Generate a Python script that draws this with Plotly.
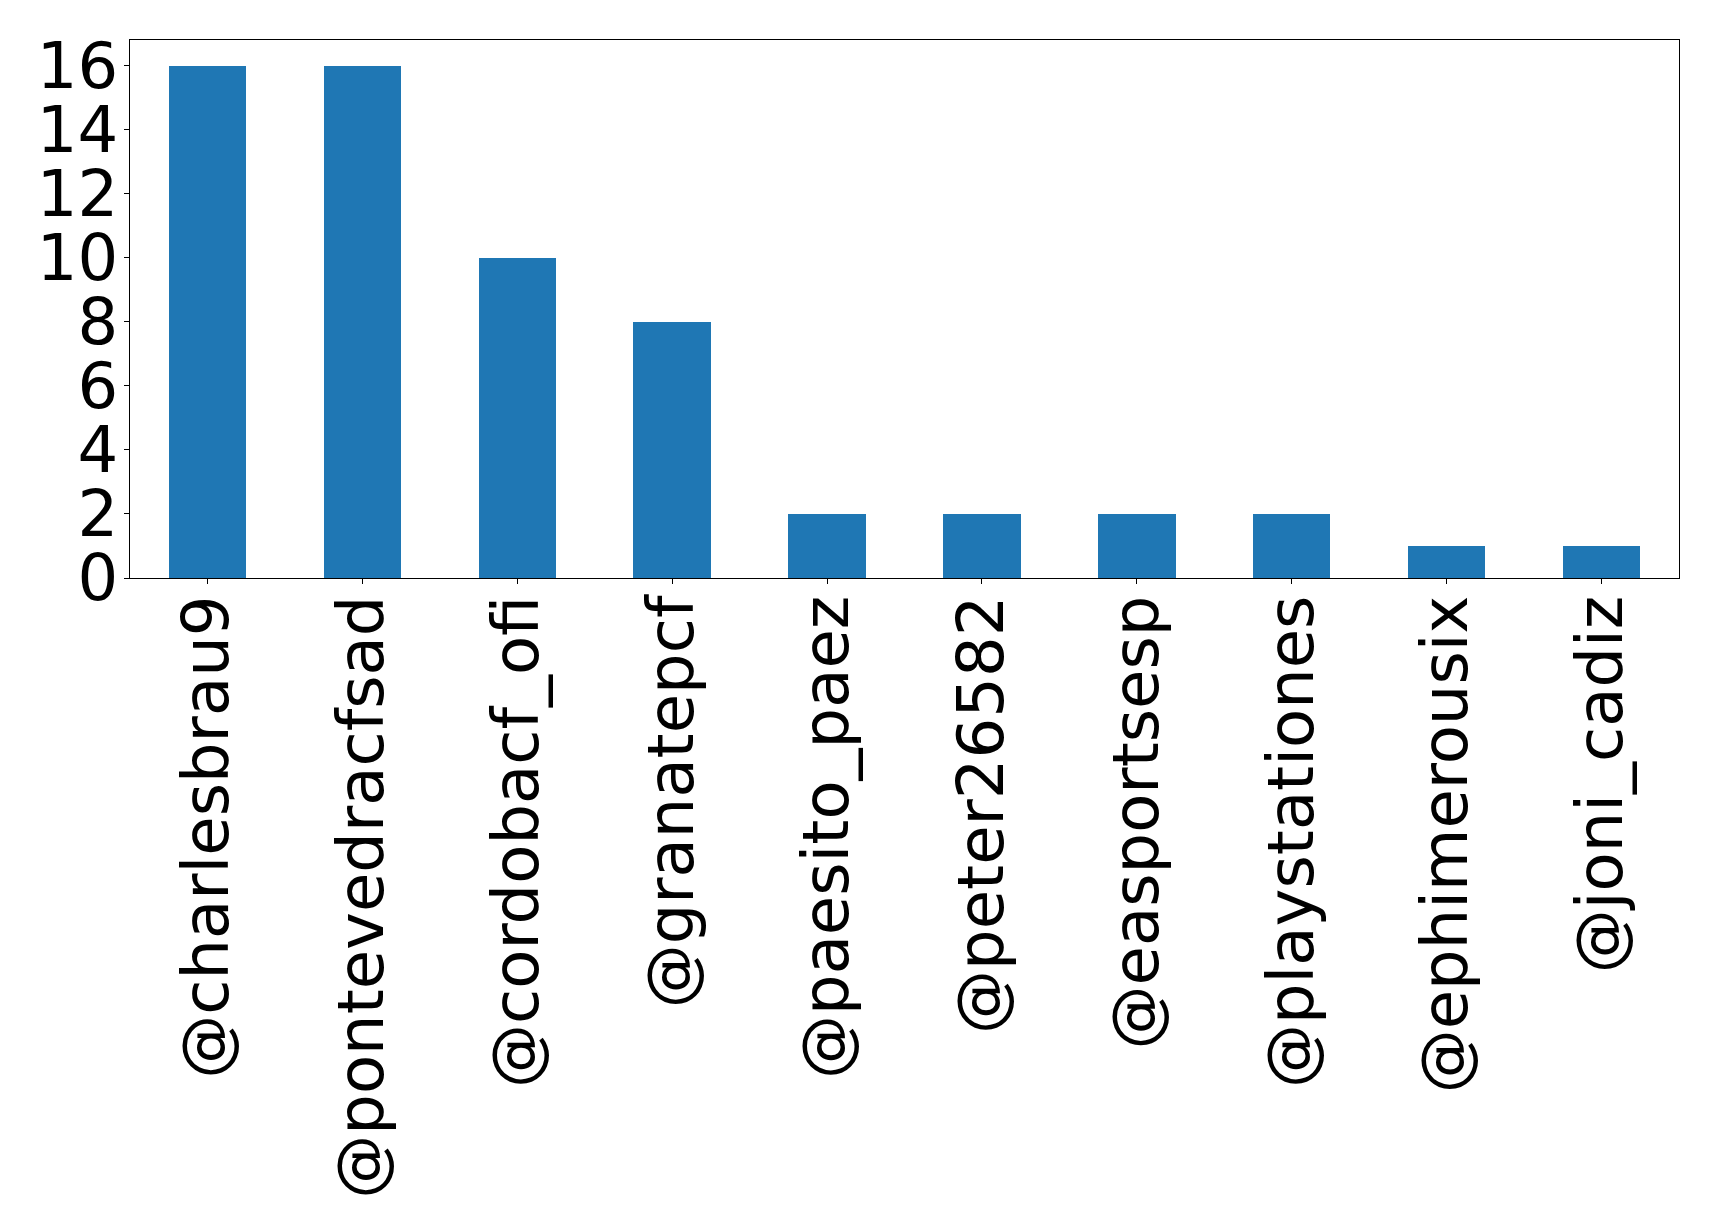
import plotly.graph_objects as go

# Mention counts per account
accounts = [
    "@charlesbrau9", "@pontevedracfsad", "@cordobacf_ofi", "@granatepcf",
    "@paesito_paez", "@peter26582", "@easportsesp", "@playstationes",
    "@ephimerousix", "@joni_cadiz",
]
mentions = [16, 16, 10, 8, 2, 2, 2, 2, 1, 1]
y_ticks = [0, 2, 4, 6, 8, 10, 12, 14, 16]

positions = list(range(len(accounts)))

fig = go.Figure(
    go.Bar(
        x=positions,
        y=mentions,
        width=0.5,
        marker=dict(color="#1f77b4", line=dict(width=0)),
    )
)

axis_font = dict(family="DejaVu Sans", size=64, color="black")

fig.update_layout(
    width=1719,
    height=1217,
    margin=dict(l=130, r=40, t=40, b=639, pad=0),
    paper_bgcolor="white",
    plot_bgcolor="white",
    showlegend=False,
    bargap=0,
)

fig.update_xaxes(
    range=[-0.5, len(accounts) - 0.5],
    tickmode="array",
    tickvals=positions,
    ticktext=accounts,
    tickangle=-90,
    tickfont=axis_font,
    ticks="outside",
    ticklen=5,
    tickwidth=1,
    tickcolor="black",
    ticklabelstandoff=-14,
    showline=True,
    linecolor="black",
    linewidth=1,
    mirror=True,
    showgrid=False,
    zeroline=False,
    automargin=False,
)

fig.update_yaxes(
    range=[0, 16.8],
    tickmode="array",
    tickvals=y_ticks,
    ticktext=[str(v) for v in y_ticks],
    tickfont=axis_font,
    ticks="outside",
    ticklen=5,
    tickwidth=1,
    tickcolor="black",
    ticklabelstandoff=-7,
    showline=True,
    linecolor="black",
    linewidth=1,
    mirror=True,
    showgrid=False,
    zeroline=False,
    automargin=False,
)

fig.write_html("out.html")
